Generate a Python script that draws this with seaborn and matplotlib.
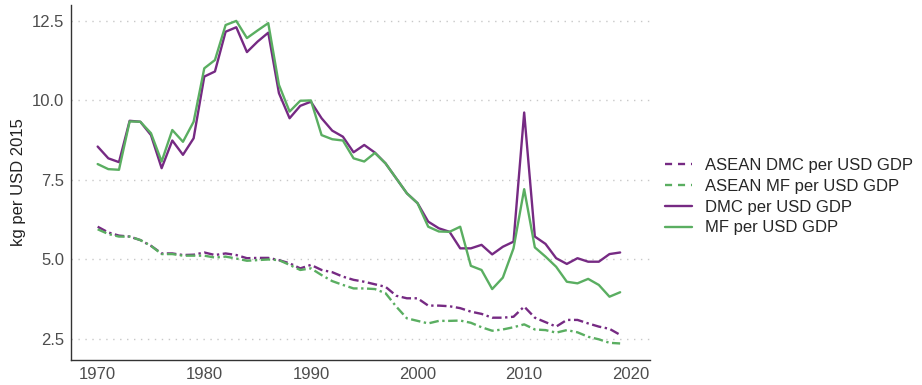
import matplotlib
matplotlib.use("Agg")
import matplotlib.pyplot as plt
import numpy as np
import pandas as pd
import seaborn as sns

years = list(range(1970, 2020))

dmc = [8.55, 8.18, 8.06, 9.36, 9.33, 8.91, 7.87, 8.74, 8.29, 8.81,
       10.75, 10.91, 12.16, 12.30, 11.52, 11.85, 12.13, 10.23, 9.44, 9.83,
       9.96, 9.44, 9.05, 8.86, 8.37, 8.60, 8.36, 8.02, 7.55, 7.08,
       6.77, 6.19, 5.98, 5.87, 5.35, 5.35, 5.46, 5.16, 5.40, 5.56,
       9.62, 5.72, 5.49, 5.04, 4.86, 5.04, 4.93, 4.93, 5.17, 5.22]

mf = [8.00, 7.84, 7.82, 9.34, 9.33, 8.97, 8.08, 9.07, 8.70, 9.33,
      11.01, 11.27, 12.37, 12.50, 11.96, 12.20, 12.43, 10.49, 9.65, 9.99,
      10.00, 8.91, 8.78, 8.74, 8.18, 8.08, 8.35, 8.02, 7.55, 7.08,
      6.77, 6.03, 5.88, 5.87, 6.03, 4.80, 4.67, 4.07, 4.43, 5.35,
      7.21, 5.38, 5.09, 4.77, 4.30, 4.25, 4.39, 4.20, 3.83, 3.97]

asean_dmc = [6.03, 5.85, 5.75, 5.72, 5.61, 5.43, 5.19, 5.19, 5.14, 5.15,
             5.22, 5.14, 5.19, 5.14, 5.04, 5.05, 5.05, 4.98, 4.88, 4.72,
             4.83, 4.67, 4.60, 4.46, 4.36, 4.30, 4.22, 4.14, 3.86, 3.78,
             3.78, 3.55, 3.55, 3.53, 3.47, 3.36, 3.29, 3.17, 3.17, 3.20,
             3.52, 3.17, 3.03, 2.89, 3.10, 3.10, 2.99, 2.89, 2.82, 2.63]

asean_mf = [5.95, 5.80, 5.72, 5.72, 5.61, 5.43, 5.17, 5.17, 5.12, 5.12,
            5.12, 5.06, 5.09, 5.03, 4.96, 4.98, 5.00, 4.98, 4.83, 4.67,
            4.72, 4.51, 4.32, 4.20, 4.09, 4.09, 4.07, 3.94, 3.52, 3.15,
            3.07, 2.99, 3.07, 3.07, 3.08, 3.01, 2.87, 2.76, 2.80, 2.87,
            2.96, 2.80, 2.78, 2.70, 2.78, 2.71, 2.57, 2.49, 2.38, 2.36]

series_names = ["ASEAN DMC per USD GDP", "ASEAN MF per USD GDP",
                "DMC per USD GDP", "MF per USD GDP"]

purple = "#762A83"
green = "#5AAE61"

df = pd.concat([
    pd.DataFrame({"year": years, "value": vals, "series": name})
    for name, vals in zip(series_names, [asean_dmc, asean_mf, dmc, mf])
])

sns.set_style("white")
plt.rcParams["font.family"] = ["Liberation Sans", "DejaVu Sans"]

fig = plt.figure(figsize=(9.22, 3.85), dpi=100)
ax = fig.add_axes([71 / 922, 25 / 385, 579 / 922, 355 / 385])

palette = {series_names[0]: purple, series_names[1]: green,
           series_names[2]: purple, series_names[3]: green}
dashes = {series_names[0]: (4, 1.5, 1, 1.5), series_names[1]: (4, 1.5, 1, 1.5),
          series_names[2]: "", series_names[3]: ""}

sns.lineplot(data=df, x="year", y="value", hue="series", style="series",
             hue_order=series_names, style_order=series_names,
             palette=palette, dashes=dashes, linewidth=1.7, ax=ax)

ax.set_xlim(1967.5, 2021.8)
ax.set_ylim(1.84, 13.0)
ax.set_xticks([1970, 1980, 1990, 2000, 2010, 2020])
ax.set_yticks([2.5, 5.0, 7.5, 10.0, 12.5])
ax.set_yticklabels(["2.5", "5.0", "7.5", "10.0", "12.5"])
ax.yaxis.grid(True, linestyle=(0, (1, 4)), color="#c8c8c8", linewidth=1)
ax.set_axisbelow(True)

for side in ["top", "right"]:
    ax.spines[side].set_visible(False)
for side in ["left", "bottom"]:
    ax.spines[side].set_color("#333333")
    ax.spines[side].set_linewidth(1)

ax.tick_params(axis="both", length=3, width=0.8, color="#333333",
               labelsize=12, labelcolor="#4D4D4D", pad=2)
ax.set_xlabel("")
ax.set_ylabel("kg per USD 2015", fontsize=12, color="#222222")

handles, labels = ax.get_legend_handles_labels()
# legend keys show the dashed series as plain short dashes, like the reference
for h, lab in zip(handles, labels):
    if lab.startswith("ASEAN"):
        h.set_dashes((3, 2.5))
ax.legend(handles, labels, loc="center left", bbox_to_anchor=(1.015, 0.46),
          frameon=False, fontsize=12, handlelength=1.6, labelspacing=0.35,
          borderaxespad=0)

fig.savefig("out.png", dpi=100)
